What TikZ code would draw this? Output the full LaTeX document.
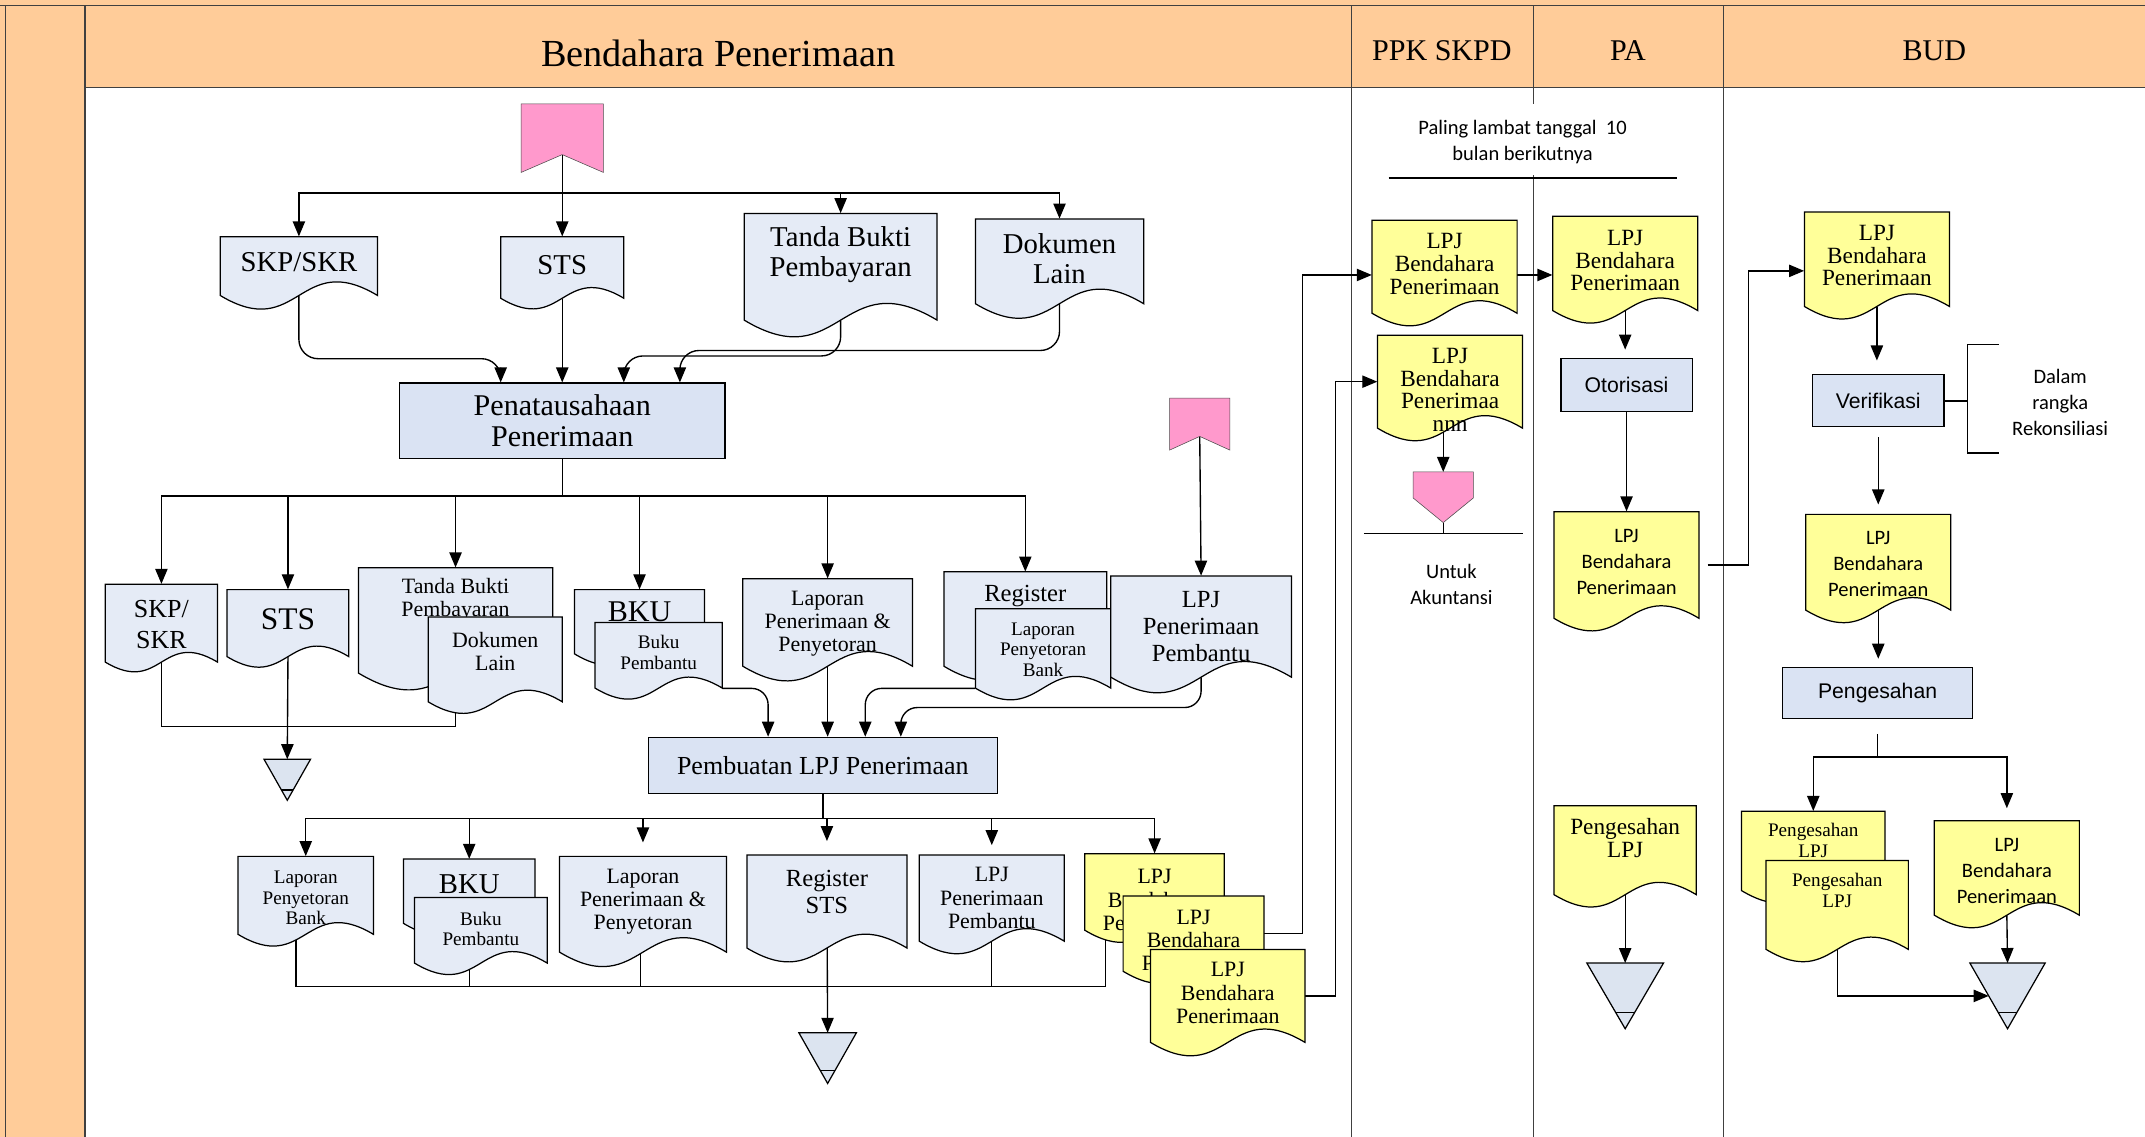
\documentclass[tikz,border=0pt]{standalone}
\usepackage{fontspec}
\setmainfont{Liberation Serif}
\newfontfamily\calibri{Carlito}
\newfontfamily\arialf{Liberation Sans}
\usetikzlibrary{arrows.meta,calc}
\definecolor{lanehead}{HTML}{FFCC99}
\definecolor{docblue}{HTML}{E5EBF6}
\definecolor{procblue}{HTML}{DAE3F3}
\definecolor{docyellow}{HTML}{FFFF99}
\definecolor{offpink}{HTML}{FF99CC}
\definecolor{storeblue}{HTML}{DCE4F0}
\pgfdeclarelayer{lanes}
\pgfdeclarelayer{wires}
\pgfsetlayers{lanes,wires,main}
\tikzset{
  laneline/.style={draw=black!75, line width=1pt},
  docline/.style={draw=black, line width=0.9pt},
  doctext/.style={align=center, inner sep=0pt},
  procbox/.style={draw, fill=procblue, line width=0.9pt, inner sep=0pt, align=center},
  wire/.style={line width=1pt},
  arr/.style={-{Triangle[length=11pt,width=9pt]}, line width=1pt},
  f28/.style={font=\fontsize{28}{30}\selectfont},
  f22/.style={font=\fontsize{22}{22}\selectfont},
  f21/.style={font=\fontsize{21}{22}\selectfont},
  f23/.style={font=\fontsize{23}{25}\selectfont},
  f19/.style={font=\fontsize{19}{22}\selectfont},
  f18/.style={font=\fontsize{18}{20}\selectfont},
  f17/.style={font=\fontsize{17}{16.5}\selectfont},
  f16/.style={font=\fontsize{16}{17}\selectfont},
  f14/.style={font=\fontsize{14}{15}\selectfont},
  c15/.style={font=\calibri\fontsize{15}{19}\selectfont, align=center},
  a15/.style={font=\arialf\fontsize{15.5}{18}\selectfont},
}
% document with wavy bottom: fill, font, name, left, top, width, height, text shift, text
\newcommand\docu[9]{%
  \pgfmathsetmacro\dxr{#4+#6}%
  \pgfmathsetmacro\dyb{#5+#7}%
  \pgfmathsetmacro\dxm{#4+0.5*#6}%
  \pgfmathsetmacro\dym{#5+0.5*#7}%
  \pgfmathsetmacro\dyt{#5+0.5*#7+#8}%
  \pgfmathsetmacro\dwv{0.3*#6}%
  \filldraw[fill=#1, docline] (#4,#5) -- (\dxr,#5) -- (\dxr,\dyb)
    .. controls (\dxm,\dyb-\dwv) and (\dxm,\dyb+\dwv) .. (#4,\dyb) -- cycle;
  \node[minimum width=#6, minimum height=#7, inner sep=0pt] (#3) at (\dxm,\dym) {};
  \node[doctext, #2] (#3t) at (\dxm,\dyt) {#9};
}
% storage triangle: name, centre x, top, half width, height
\newcommand\store[5]{%
  \filldraw[fill=storeblue, docline] (#2-#4,#3) -- (#2+#4,#3) -- (#2,#3+#5) -- cycle;
  \draw[docline] (#2-0.25*#4,#3+0.75*#5) -- (#2+0.25*#4,#3+0.75*#5);
  \coordinate (#1) at (#2,#3);
  \coordinate (#1l) at (#2-0.5*#4,#3+0.5*#5);
}

\begin{document}
\begin{tikzpicture}[x=1pt,y=-1pt]
  \useasboundingbox (0,0) rectangle (1568,831);
  % Draw the lanes
  \begin{pgfonlayer}{lanes}
    \fill[lanehead] (0,0) rectangle (1568,831);
    \fill[white] (62,64) rectangle (1568,831);
    \draw[laneline] (0,4) -- (1568,4);
    \draw[laneline] (4,4) -- (4,831);
    \draw[laneline] (62,4) -- (62,831);
    \draw[laneline] (62,64) -- (1568,64);
    \draw[laneline] (988,4) -- (988,831);
    \draw[laneline] (1121,4) -- (1121,76) (1121,128) -- (1121,831);
    \draw[laneline] (1260,4) -- (1260,831);
  \end{pgfonlayer}
  \node[f28] (tbend) at (525,39) {Bendahara Penerimaan};
  \node[f22] (tppk) at (1054,37) {PPK SKPD};
  \node[f22] (tpa) at (1190,37) {PA};
  \node[f22] (tbud) at (1414,37) {BUD};

  % Draw the first documents
  \filldraw[fill=offpink, draw=black!70] (381,76) -- (441,76) -- (441,126) -- (411,113) -- (381,126) -- cycle;
  \coordinate (start1) at (411,113);
  \docu{docblue}{f21}{skp1}{161}{173}{115}{43}{-3}{SKP/SKR}
  \docu{docblue}{f21}{sts1}{366}{173}{90}{45}{-2}{STS}
  \docu{docblue}{f21}{tbp1}{544}{156}{141}{78}{-9}{Tanda Bukti\\Pembayaran}
  \docu{docblue}{f21}{dok1}{713}{160}{123}{62}{-2}{Dokumen\\Lain}
  \node[procbox, f22, minimum width=238, minimum height=55] (penat) at (411,307.5) {Penatausahaan\\Penerimaan};

  % Draw the second documents
  \docu{docblue}{f19}{skp2}{77}{427}{82}{57}{1}{SKP/\\SKR}
  \docu{docblue}{f23}{sts2}{166}{431}{89}{49}{-3}{STS}
  \docu{docblue}{f16}{tbp2}{262}{415}{142}{77}{-15}{Tanda Bukti\\Pembayaran}
  \docu{docblue}{f16}{dok2}{313}{451}{98}{62}{-6}{Dokumen\\Lain}
  \docu{docblue}{f22}{bku2}{420}{431}{95}{47}{-7}{BKU}
  \docu{docblue}{f14}{bkp2}{435}{455}{93}{48}{-2}{Buku\\Pembantu}
  \docu{docblue}{f16}{lpp2}{543}{423}{124}{64}{1}{Laporan\\Penerimaan \&\\Penyetoran}
  \docu{docblue}{f18}{reg2}{690}{418}{119}{69}{-17}{Register}
  \docu{docblue}{f14}{lap2}{713}{445}{99}{58}{1}{Laporan\\Penyetoran\\Bank}
  \filldraw[fill=offpink, draw=black!70] (855,291) -- (899,291) -- (899,329) -- (877,319) -- (855,329) -- cycle;
  \coordinate (start2) at (877,319);
  \docu{docblue}{f18}{lpjp2}{812}{421}{132}{74}{0}{LPJ\\Penerimaan\\Pembantu}
  \store{tri1}{210}{555}{17}{30}
  \node[procbox, f19, minimum width=255, minimum height=41] (pemb) at (601.5,559.5) {Pembuatan LPJ Penerimaan};

  % Draw the third documents
  \docu{docblue}{f14}{lpb3}{174}{626}{99}{57}{2}{Laporan\\Penyetoran\\Bank}
  \docu{docblue}{f21}{bku3}{295}{628}{96}{47}{-5}{BKU}
  \docu{docblue}{f14}{bkp3}{303}{656}{97}{48}{-1}{Buku\\Pembantu}
  \docu{docblue}{f16}{lpp3}{409}{626}{122}{70}{-2}{Laporan\\Penerimaan \&\\Penyetoran}
  \docu{docblue}{f18}{rst3}{546}{625}{117}{68}{-7}{Register\\STS}
  \docu{docblue}{f16}{lpj3}{672}{625}{106}{63}{0}{LPJ\\Penerimaan\\Pembantu}
  \docu{docyellow}{f16}{lb3a}{793}{624}{102}{56}{6}{LPJ\\Bendahara\\Penerimaan}
  \docu{docyellow}{f16}{lb3b}{821}{655}{103}{55}{5}{LPJ\\Bendahara\\Penerimaan}
  \docu{docyellow}{f16}{lb3c}{841}{694}{113}{68}{-2}{LPJ\\Bendahara\\Penerimaan}
  \store{tri2}{605}{755}{21}{37}

  % PPK SKPD
  \node[c15] (plt) at (1113,104) {Paling lambat tanggal~ 10\\bulan berikutnya};
  \draw[wire] (1015,130) -- (1226,130);
  \docu{docyellow}{f17}{ppk1}{1003}{161}{106}{68}{-2}{LPJ\\Bendahara\\Penerimaan}
  \docu{docyellow}{f17}{ppk2}{1007}{245}{106}{68}{6}{LPJ\\Bendahara\\Penerimaa\\nnn}
  \filldraw[fill=offpink, draw=black!70] (1033,345) -- (1077,345) -- (1077,364) -- (1055,382) -- (1033,364) -- cycle;
  \coordinate (pen1) at (1055,345);
  \coordinate (pen1b) at (1055,382);
  \draw[wire] (997,390) -- (1113,390);
  \draw[wire] (pen1b) -- ++(0,8);
  \node[c15] (untuk) at (1061,427) {Untuk\\Akuntansi};

  % PA
  \docu{docyellow}{f17}{pa1}{1135}{158}{106}{69}{-2}{LPJ\\Bendahara\\Penerimaan}
  \node[procbox, a15, minimum width=96, minimum height=39] (otor) at (1189,281.5) {Otorisasi};
  \docu{docyellow}{c15}{pa2}{1136}{374}{106}{78}{-2}{LPJ\\Bendahara\\Penerimaan}
  \docu{docyellow}{f17}{pa3}{1136}{589}{104}{65}{-9}{Pengesahan\\LPJ}
  \store{tri3}{1188}{704}{28}{48}

  % BUD
  \docu{docyellow}{f17}{bud1}{1319}{155}{106}{69}{-2.5}{LPJ\\Bendahara\\Penerimaan}
  \node[procbox, a15, minimum width=96, minimum height=38] (verif) at (1373,293) {Verifikasi};
  \node[c15] (rekon) at (1506,294) {Dalam\\rangka\\Rekonsiliasi};
  \docu{docyellow}{c15}{bud2}{1320}{376}{106}{70}{1.5}{LPJ\\Bendahara\\Penerimaan}
  \node[procbox, a15, minimum width=139, minimum height=37] (pges) at (1372.5,506.5) {Pengesahan};
  \docu{docyellow}{f14}{bpl1}{1273}{593}{105}{58}{-7.5}{Pengesahan\\LPJ}
  \docu{docyellow}{f14}{bpl2}{1291}{629}{104}{65}{-10.5}{Pengesahan\\LPJ}
  \docu{docyellow}{c15}{bud3}{1414}{600}{106}{69}{2}{LPJ\\Bendahara\\Penerimaan}
  \store{tri4}{1467.5}{704}{27.5}{48}

  % Draw the connectors
  \begin{pgfonlayer}{wires}
    \coordinate (bus1) at ($(start1)+(0,28)$);
    \draw[wire] (start1) -- (bus1);
    \draw[arr] (bus1) -| (skp1.north);
    \draw[arr] (bus1) -- (sts1.north);
    \draw[arr] (bus1) -| (tbp1.north);
    \draw[arr] (bus1) -| (dok1.north);
    \draw[arr, rounded corners=14] (skp1.south) -- ++(0,46) -| ([xshift=-45]penat.north);
    \draw[arr] (sts1.south) -- (penat.north);
    \draw[arr, rounded corners=14] (tbp1.south) -- ++(0,26) -| ([xshift=45]penat.north);
    \draw[arr, rounded corners=14] (dok1.south) -- ++(0,34) -| ([xshift=86]penat.north);

    \coordinate (bus2) at ($(penat.south)+(0,27)$);
    \draw[wire] (penat.south) -- (bus2);
    \foreach \d in {skp2,sts2,tbp2,bku2,lpp2,reg2}
      \draw[arr] (bus2) -| (\d.north);
    \draw[arr] (start2) -- (lpjp2.north);
    \draw[wire] (skp2.south) -- ++(0,47) -| (tbp2.south);
    \draw[arr] (sts2.south) -- (tri1);
    \draw[arr, rounded corners=12] (bkp2.south east) -| ([xshift=-40]pemb.north);
    \draw[arr] (lpp2.south) -- (lpp2.south |- pemb.north);
    \draw[arr, rounded corners=12] (lap2.south west) -| ([xshift=31]pemb.north);
    \draw[arr, rounded corners=12] (lpjp2.south) -- ++(0,22) -| ([xshift=57]pemb.north);

    \coordinate (bus3) at ($(pemb.south)+(0,18)$);
    \draw[wire] (pemb.south) -- (bus3);
    \draw[arr] (bus3) -| (lpb3.north);
    \draw[arr] (bus3) -| (bku3.north);
    \draw[arr, shorten >=10pt] (bus3) -| (lpp3.north);
    \draw[arr, shorten >=10pt] (bus3) -| (rst3.north);
    \draw[arr, shorten >=7pt] (bus3) -| (lpj3.north);
    \draw[arr] (bus3) -| (lb3a.north);

    \coordinate (m2) at ($(rst3.south)+(0,28)$);
    \draw[wire] ([xshift=-7]lpb3.center) |- (m2);
    \draw[wire] (bku3.center) |- (m2);
    \draw[wire] ([xshift=-2]lpp3.center) |- (m2);
    \draw[wire] (lpj3.center) |- (m2);
    \draw[wire] ([xshift=-36]lb3a.center) |- (m2);
    \draw[arr] (rst3.center) -- (tri2);
    \draw[arr] (lb3b.east) -- ++(28,0) |- ($(ppk1.west)+(0,6)$);
    \draw[arr] (lb3c.east) -- ++(22,0) |- (ppk2.west);

    \draw[arr] (ppk2.south -| pen1) -- (pen1);
    \draw[arr] ($(ppk1.east)+(0,6)$) -- ($(pa1.west)+(0,8.5)$);
    \draw[arr, shorten >=6pt] (pa1.south) -- (pa1.south |- otor.north);
    \draw[arr] (otor.south) -- (otor.south |- pa2.north);
    \draw[arr] ([xshift=6]pa2.east) -- ++(30,0) |- ($(bud1.west)+(0,8.5)$);
    \draw[arr] (pa3.south) -- (tri3);

    \draw[arr, shorten >=10pt] (bud1.south) -- (bud1.south |- verif.north);
    \draw[wire] (verif.east) -- ++(17,0);
    \draw[wire] (1461,252) -- (1438,252) -- (1438,331) -- (1461,331);
    \draw[arr, shorten <=7pt, shorten >=7pt] (verif.south) -- (verif.south |- bud2.north);
    \draw[arr, shorten >=6pt] (bud2.south) -- (bud2.south |- pges.north);
    \coordinate (bus4) at ($(pges.south)+(0,28)$);
    \draw[wire, shorten <=11pt] (pges.south) -- (bus4);
    \draw[arr] (bus4) -| (bpl1.north);
    \draw[arr, shorten >=9pt] (bus4) -| (bud3.north);
    \draw[arr] (bud3.south) -- (tri4);
    \draw[arr] (bpl2.center) |- (tri4l);
  \end{pgfonlayer}
\end{tikzpicture}
\end{document}
